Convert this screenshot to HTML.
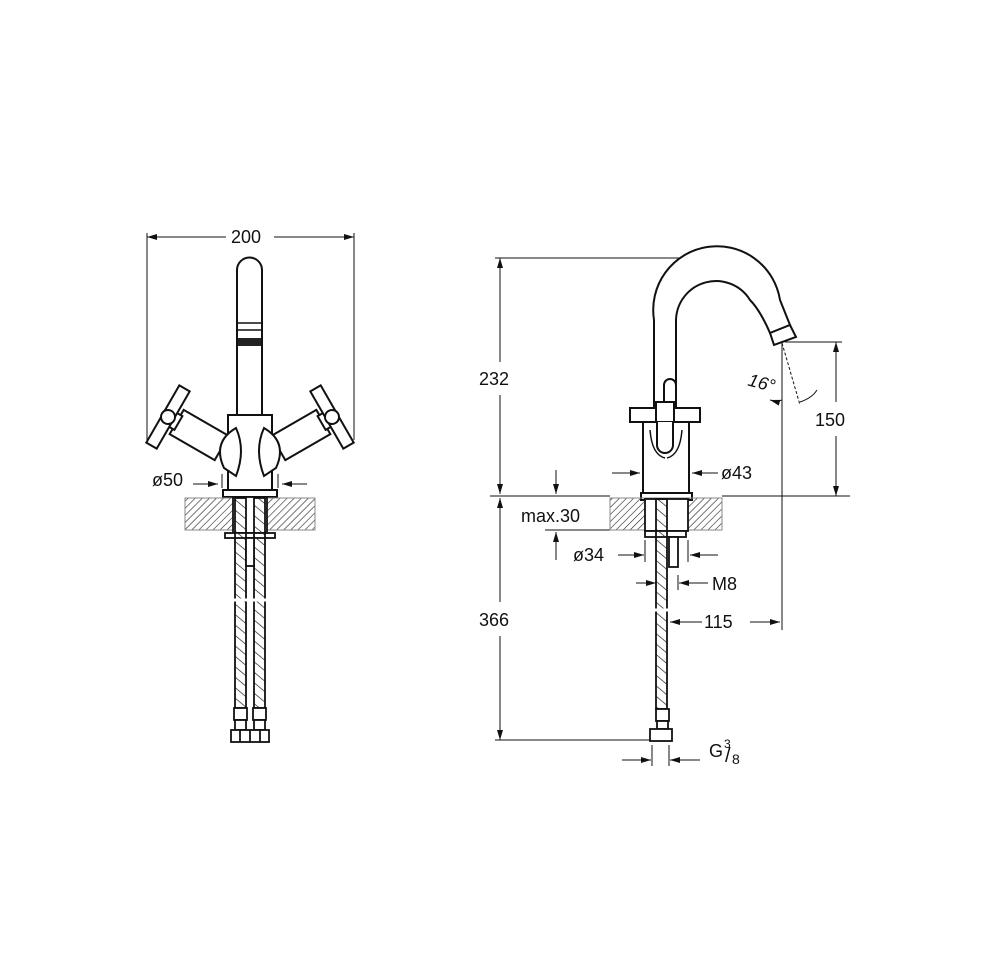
<!DOCTYPE html>
<html><head><meta charset="utf-8"><style>
html,body{margin:0;padding:0;background:#fff;}
svg{display:block;}
text{font-family:"Liberation Sans",sans-serif;font-size:18px;fill:#111;}
</style></head><body>
<svg width="1000" height="970" viewBox="0 0 1000 970" xmlns="http://www.w3.org/2000/svg">
<defs>
<pattern id="h" width="5" height="5" patternUnits="userSpaceOnUse" patternTransform="rotate(45)">
<line x1="0" y1="0" x2="0" y2="5" stroke="#222" stroke-width="1.2"/></pattern>
<pattern id="hh" width="8" height="8" patternUnits="userSpaceOnUse" patternTransform="rotate(-50)">
<line x1="0" y1="0" x2="0" y2="8" stroke="#222" stroke-width="1.4"/></pattern>
<marker id="a" viewBox="0 0 10 6" refX="10" refY="3" markerWidth="10" markerHeight="6" orient="auto-start-reverse" markerUnits="userSpaceOnUse"><path d="M0,0 L10,3 L0,6z" fill="#111"/></marker>
<g id="hnd" stroke="#111" fill="#fff" stroke-width="2">
<g transform="rotate(30 168 417)">
<rect x="178" y="403" width="52" height="28"/>
<rect x="172" y="409" width="8" height="16"/>
<rect x="162" y="384" width="12" height="66"/>
<circle cx="168" cy="417" r="7"/>
</g>
<path d="M236,428 Q212,442 224,468 L236,476 Q246,450 236,428Z"/>
</g>
</defs>
<g stroke="#111" fill="none" stroke-width="1">
<line x1="147" y1="233" x2="147" y2="440"/>
<line x1="354" y1="233" x2="354" y2="440"/>
<line x1="147" y1="237" x2="226" y2="237" marker-start="url(#a)"/>
<line x1="274" y1="237" x2="354" y2="237" marker-end="url(#a)"/>
<line x1="193" y1="484" x2="218" y2="484" marker-end="url(#a)"/>
<line x1="282" y1="484" x2="307" y2="484" marker-start="url(#a)"/>
<line x1="222" y1="474" x2="222" y2="488"/><line x1="278" y1="474" x2="278" y2="488"/>
</g>
<text x="231" y="243">200</text>
<text x="152" y="486">ø50</text>
<g stroke="#111" fill="#fff" stroke-width="2">
<path d="M237,415 V270 A12.5,12.5 0 0 1 262,270 V415"/>
<line x1="238" y1="323" x2="261" y2="323" stroke-width="1.5"/>
<line x1="238" y1="330" x2="261" y2="330" stroke-width="1.5"/>
<rect x="238" y="338" width="23" height="8" fill="#222" stroke="none"/>
<rect x="228" y="415" width="44" height="75"/>
</g>
<use href="#hnd"/>
<use href="#hnd" transform="translate(500,0) scale(-1,1)"/>
<rect x="223" y="490" width="54" height="7" fill="#fff" stroke="#111" stroke-width="2"/>
<rect x="185" y="498" width="130" height="32" fill="url(#h)" stroke="#888" stroke-width="1"/>
<g stroke="#111" stroke-width="1.8">
<rect x="233" y="497" width="34" height="36" fill="#fff"/>
<rect x="225" y="533" width="50" height="5" fill="#fff"/>
<rect x="235" y="498" width="11" height="210" fill="url(#hh)"/>
<rect x="254" y="498" width="11" height="210" fill="url(#hh)"/>
<rect x="246" y="538" width="8" height="28" fill="#fff"/>
<rect x="234" y="708" width="13" height="12" fill="#fff"/>
<rect x="253" y="708" width="13" height="12" fill="#fff"/>
<rect x="235" y="720" width="11" height="10" fill="#fff"/><rect x="254" y="720" width="11" height="10" fill="#fff"/>
<rect x="231" y="730" width="38" height="12" fill="#fff"/>
<line x1="240" y1="730" x2="240" y2="742"/><line x1="250" y1="730" x2="250" y2="742"/><line x1="260" y1="730" x2="260" y2="742"/>
</g>
<line x1="230" y1="600" x2="270" y2="600" stroke="#fff" stroke-width="3"/>

<g stroke="#111" fill="none" stroke-width="1">
<line x1="495" y1="258" x2="715" y2="258"/>
<line x1="490" y1="496" x2="610" y2="496"/><line x1="722" y1="496" x2="850" y2="496"/>
<line x1="495" y1="740" x2="650" y2="740"/>
<line x1="500" y1="258" x2="500" y2="362" marker-start="url(#a)"/>
<line x1="500" y1="395" x2="500" y2="494" marker-end="url(#a)"/>
<line x1="500" y1="498" x2="500" y2="602" marker-start="url(#a)"/>
<line x1="500" y1="636" x2="500" y2="740" marker-end="url(#a)"/>
<line x1="785" y1="342" x2="842" y2="342"/>
<line x1="836" y1="342" x2="836" y2="402" marker-start="url(#a)"/>
<line x1="836" y1="436" x2="836" y2="496" marker-end="url(#a)"/>
<line x1="782" y1="343" x2="782" y2="630"/>
<line x1="782" y1="343" x2="800" y2="405" stroke-dasharray="3,2"/>
<path d="M770,400 Q777,402 782,400" marker-start="url(#a)"/>
<path d="M800,402 Q812,398 817,390"/>
<line x1="556" y1="470" x2="556" y2="494" marker-end="url(#a)"/>
<line x1="556" y1="560" x2="556" y2="532" marker-end="url(#a)"/>
<line x1="545" y1="530" x2="610" y2="530"/>
<line x1="612" y1="473" x2="640" y2="473" marker-end="url(#a)"/>
<line x1="718" y1="473" x2="692" y2="473" marker-end="url(#a)"/>
<line x1="618" y1="555" x2="644" y2="555" marker-end="url(#a)"/>
<line x1="718" y1="555" x2="690" y2="555" marker-end="url(#a)"/>
<line x1="645" y1="540" x2="645" y2="562"/><line x1="688" y1="540" x2="688" y2="562"/>
<line x1="636" y1="583" x2="656" y2="583" marker-end="url(#a)"/>
<line x1="708" y1="583" x2="679" y2="583" marker-end="url(#a)"/>
<line x1="678" y1="575" x2="678" y2="590"/>
<line x1="702" y1="622" x2="670" y2="622" marker-end="url(#a)"/>
<line x1="750" y1="622" x2="780" y2="622" marker-end="url(#a)"/>
<line x1="622" y1="760" x2="651" y2="760" marker-end="url(#a)"/>
<line x1="700" y1="760" x2="670" y2="760" marker-end="url(#a)"/>
<line x1="652" y1="745" x2="652" y2="766"/><line x1="669" y1="745" x2="669" y2="766"/>
</g>
<text x="479" y="385">232</text>
<text x="479" y="626">366</text>
<text x="815" y="426">150</text>
<text x="704" y="628">115</text>
<text x="721" y="479">ø43</text>
<text x="573" y="561">ø34</text>
<text x="712" y="590">M8</text>
<text x="521" y="522">max.30</text>
<text x="748" y="388" transform="rotate(15 758 383)" font-style="italic">16°</text>
<text x="709" y="757">G</text><text x="724" y="748" style="font-size:12px">3</text><text x="725" y="762" style="font-size:20px">/</text><text x="732" y="764" style="font-size:14px">8</text>

<g stroke="#111" fill="#fff" stroke-width="2">
<path d="M654,410 V320 A63,63 0 0 1 780,300 L790,325 L770,333 Q760,310 750,300 A40,40 0 0 0 676,320 V410"/>
<path d="M770,333 L790,325 L796,337 L774,345 Z"/>
<path d="M664,410 V385 A6,6 0 0 1 676,385 V410"/>
<rect x="643" y="422" width="46" height="71"/>
<rect x="630" y="408" width="70" height="14"/>
<rect x="656" y="402" width="18" height="20"/>
<path d="M657,422 V445 A8,8 0 0 0 673,445 V422"/>
<path d="M650,430 Q652,455 665,458" fill="none" stroke-width="1.5"/>
<path d="M682,430 Q680,455 667,458" fill="none" stroke-width="1.5"/>
<rect x="641" y="493" width="51" height="7"/>
</g>
<rect x="610" y="498" width="112" height="32" fill="url(#h)" stroke="#888" stroke-width="1"/>
<g stroke="#111" stroke-width="1.8">
<rect x="645" y="499" width="43" height="32" fill="#fff"/>
<rect x="645" y="531" width="41" height="6" fill="#fff"/>
<rect x="656" y="499" width="11" height="210" fill="url(#hh)"/>
<rect x="669" y="537" width="9" height="30" fill="#fff"/>
<rect x="656" y="709" width="13" height="12" fill="#fff"/>
<rect x="657" y="721" width="11" height="8" fill="#fff"/>
<rect x="650" y="729" width="22" height="12" fill="#fff"/>
</g>
<line x1="650" y1="610" x2="675" y2="610" stroke="#fff" stroke-width="3"/>
</svg>
</body></html>
